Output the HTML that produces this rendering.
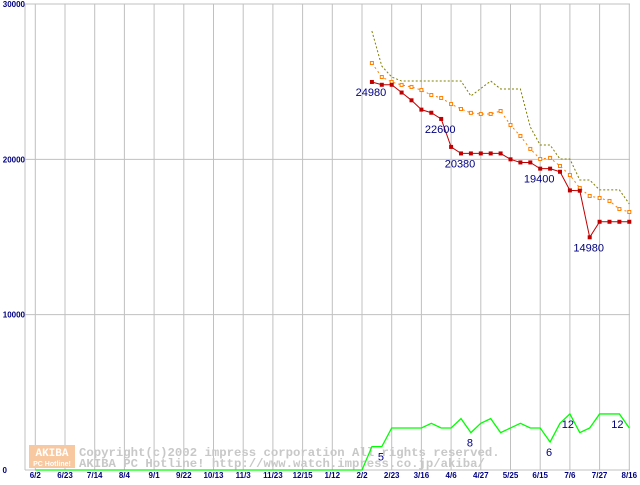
<!DOCTYPE html>
<html><head><meta charset="utf-8">
<style>
body{margin:0;background:#fff;width:640px;height:480px;overflow:hidden}
svg text{font-family:"Liberation Sans",sans-serif}
</style></head><body>
<svg id="chart" width="640" height="480" xmlns="http://www.w3.org/2000/svg">
<g id="grid"></g>
<g id="wm">
 <rect x="29" y="445" width="46" height="23" fill="#f8c8a0"/>
 <text x="52" y="456" font-size="11" font-weight="bold" fill="#fff" text-anchor="middle" style="font-family:'Liberation Mono',monospace">AKIBA</text>
 <text x="52" y="466" font-size="7" font-weight="bold" fill="#fff" text-anchor="middle">PC Hotline!</text>
 <text x="79" y="456" font-size="12.3" font-weight="bold" fill="#c8c8c8" style="font-family:'Liberation Mono',monospace">Copyright(c)2002 impress corporation All rights reserved.</text>
 <text x="79" y="467" font-size="12.3" font-weight="bold" fill="#c8c8c8" style="font-family:'Liberation Mono',monospace">AKIBA PC Hotline!  http://www.watch.impress.co.jp/akiba/</text>
</g>
<g id="series"></g>
</svg>
<script>
const xLabels=["6/2","6/23","7/14","8/4","9/1","9/22","10/13","11/3","11/23","12/15","1/12","2/2","2/23","3/16","4/6","4/27","5/25","6/15","7/6","7/27","8/16"];
const yTicks=[0,10000,20000,30000];
const minPrice=[24980,24800,24800,24300,23800,23200,23000,22600,20800,20380,20380,20380,20380,20380,20000,19800,19800,19400,19400,19200,18000,17980,14980,15980,15980,15980,15980];
const avgPrice=[26200,25300,24980,24790,24660,24460,24140,23950,23560,23240,22990,22920,22920,23110,22210,21500,20670,20020,20090,19570,18990,18150,17640,17510,17320,16800,16610];
const maxPrice=[28260,26000,25300,25040,25040,25040,25040,25040,25040,25040,24080,24560,25040,24530,24530,24530,22080,20920,20920,20020,20020,18670,18670,18030,18030,18030,17130];
const shopCount=[5,5,9,9,9,9,10,9,9,11,8,10,11,8,9,10,9,9,6,10,12,8,9,12,12,12,9];
const priceLabels=[[0,"24980"],[7,"22600"],[9,"20380"],[17,"19400"],[22,"14980"]];
const countLabels=[[0,"5"],[10,"8"],[18,"6"],[20,"12"],[25,"12"]];
const countLabelDx=[9,-1,-1,-2,-2];

const NS="http://www.w3.org/2000/svg";
const X0=35.3, GW=29.7, Y0=470, YT=4;
const xw=i=>X0+GW*11+GW/3*(i+1);
const yP=v=>Y0-(Y0-YT)*v/30000;
const yC=v=>Y0-v*4.67;
function mk(tag,attrs,parent){const e=document.createElementNS(NS,tag);for(const k in attrs)e.setAttribute(k,attrs[k]);parent.appendChild(e);return e;}
const grid=document.getElementById('grid'), ser=document.getElementById('series');

yTicks.forEach(t=>{
  const l=mk('line',{x1:25,x2:630,y1:yP(t),y2:yP(t),stroke:'#c0c0c0','stroke-width':1},grid);
  
  
  const tx=mk('text',{x:t===0?7:25,y:yP(t)+3,'font-size':8,'font-weight':'bold',fill:'#000080','text-anchor':'end'},grid);
  tx.textContent=String(t);
  
  
});
xLabels.forEach((s,i)=>{
  const x=X0+GW*i;
  const l=mk('line',{x1:x,x2:x,y1:YT,y2:Y0,stroke:'#c0c0c0','stroke-width':1},grid);
  
  
  const tx=mk('text',{x:x,y:478,'font-size':8,'font-weight':'bold',fill:'#000080','text-anchor':'middle'},grid);
  tx.textContent=s;
  
  
});
const ax=mk('line',{x1:25,x2:25,y1:YT,y2:Y0,stroke:'#c0c0c0'},grid);



function line(arr,fy,color,dash,name,w){
  const p=mk('polyline',{points:arr.map((v,i)=>xw(i)+','+fy(v)).join(' '),fill:'none',stroke:color,'stroke-width':w||1,'stroke-dasharray':dash||'none'},ser);
  
  
}
line(maxPrice,yP,'#808000','2,2','max-price-line');
line(avgPrice,yP,'#ff8000','2,3','avg-price-line');
avgPrice.forEach((v,i)=>{
  const r=mk('rect',{x:xw(i)-1.5,y:yP(v)-1.5,width:3,height:3,fill:'#fff',stroke:'#ff8000','stroke-width':1},ser);
  
  
});
line(minPrice,yP,'#c00000','','min-price-line');
minPrice.forEach((v,i)=>{
  const r=mk('rect',{x:xw(i)-2,y:yP(v)-2,width:4,height:4,fill:'#c00000'},ser);
  
  
});
const cpts=[[X0,yC(0)],[X0+GW*11,yC(0)]].concat(shopCount.map((v,i)=>[xw(i),yC(v)]));
const gl=mk('polyline',{points:cpts.map(p=>p.join(',')).join(' '),fill:'none',stroke:'#00ff00','stroke-width':1.3},ser);


priceLabels.forEach(([i,s])=>{
  const t=mk('text',{x:xw(i)-1,y:yP(minPrice[i])+14,'font-size':11,fill:'#000080','text-anchor':'middle'},ser);
  t.textContent=s;
  
  
});
countLabels.forEach(([i,s],k)=>{
  const t=mk('text',{x:xw(i)+countLabelDx[k],y:yC(shopCount[i])+14,'font-size':11,fill:'#000080','text-anchor':'middle'},ser);
  t.textContent=s;
  
  
});
</script>
</body></html>
